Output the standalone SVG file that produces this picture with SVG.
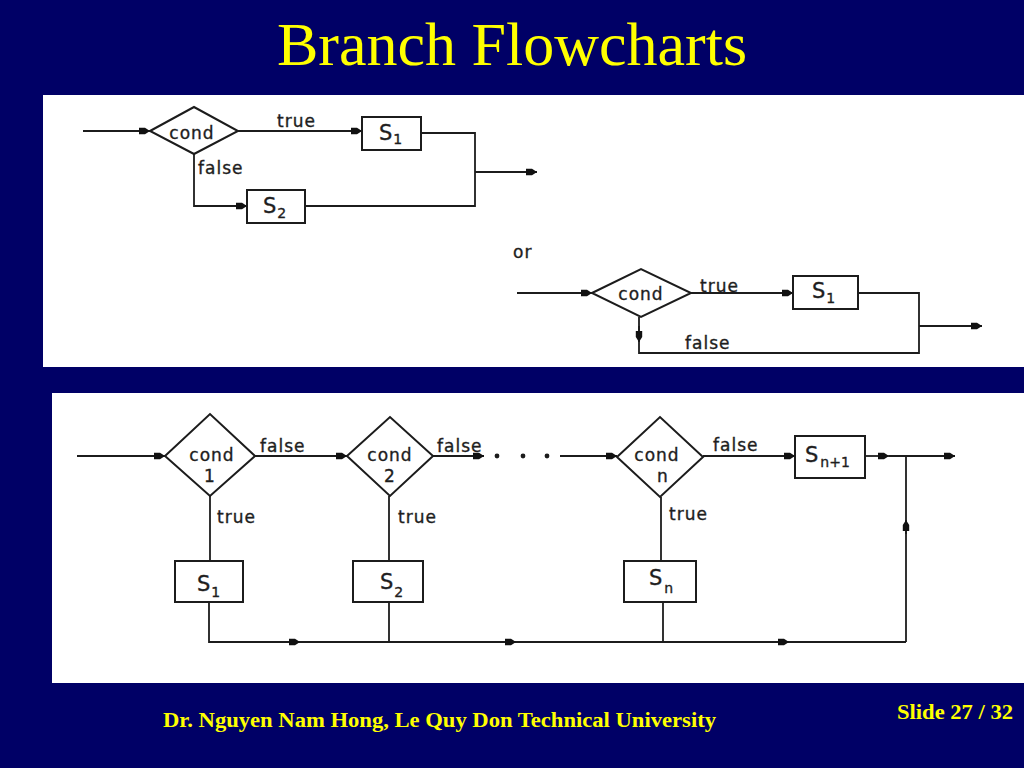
<svg xmlns="http://www.w3.org/2000/svg" width="1024" height="768" viewBox="0 0 1024 768">
<style>
.ln{fill:none;stroke:#1c1c1c;stroke-width:1.8}
.ar{fill:none;stroke:#1c1c1c;stroke-width:1.8;marker-end:url(#ah)}
.box{fill:#fff;stroke:#1c1c1c;stroke-width:2}
.lb{font-family:"DejaVu Sans",sans-serif;font-size:17px;fill:#1e1e1e;stroke:#1e1e1e;stroke-width:0.35;letter-spacing:1px}
.c{text-anchor:middle}
.s{font-family:"DejaVu Sans",sans-serif;font-size:21px;fill:#1e1e1e;stroke:#1e1e1e;stroke-width:0.35}
.sub{font-size:14px}
.title{font-family:"Liberation Serif",serif;font-size:62px;fill:#ffff00}
.foot{font-family:"Liberation Serif",serif;font-weight:bold;font-size:20px;fill:#ffff00}
</style>
<defs>
<marker id="ah" markerUnits="userSpaceOnUse" markerWidth="11" markerHeight="8" refX="11" refY="4" orient="auto">
<path d="M0,0.8 L6,0.8 L11,4 L6,7.2 L0,7.2 z" fill="#111"/>
</marker>
</defs>
<rect width="1024" height="768" fill="#000066"/>
<text class="title" x="512" y="65" text-anchor="middle">Branch Flowcharts</text>
<rect x="43" y="95" width="981" height="272" fill="#ffffff"/>
<rect x="52" y="393" width="972" height="290" fill="#ffffff"/>

<g id="connectors">
<path class="ar" d="M83,131 L150,131"/>
<path class="ar" d="M238,131 L362,131"/>
<path class="ln" d="M421,133 L475,133 L475,206 L305,206"/>
<path class="ar" d="M475,172 L537,172"/>
<path class="ar" d="M194,154 L194,206 L247,206"/>
<path class="ar" d="M517,293 L592,293"/>
<path class="ar" d="M691,293 L793,293"/>
<path class="ln" d="M858,293 L919,293 L919,353 L639,353 L639,317"/>
<path class="ar" d="M639,326 L639,342"/>
<path class="ar" d="M919,326 L982,326"/>
<path class="ar" d="M77,456 L165,456"/>
<path class="ar" d="M255,456 L347,456"/>
<path class="ar" d="M433,456 L484,456"/>
<path class="ar" d="M560,456 L617,456"/>
<path class="ar" d="M703,456 L795,456"/>
<path class="ar" d="M865,456 L889,456"/>
<path class="ar" d="M889,456 L955,456"/>
<path class="ln" d="M906,456 L906,642"/>
<path class="ar" d="M906,534 L906,520"/>
<path class="ln" d="M210,496 L210,561"/>
<path class="ln" d="M389,496 L389,561"/>
<path class="ln" d="M661,497 L661,561"/>
<path class="ln" d="M209,602 L209,642 L906,642"/>
<path class="ln" d="M389,602 L389,642"/>
<path class="ln" d="M663,602 L663,642"/>
<path class="ar" d="M284,642 L300,642"/>
<path class="ar" d="M500,642 L516,642"/>
<path class="ar" d="M772,642 L789,642"/>
</g>

<g id="labels">
<text class="lb" x="277" y="127">true</text>
<text class="lb" x="198" y="174">false</text>
<text class="lb" x="513" y="258">or</text>
<text class="lb" x="700" y="292">true</text>
<text class="lb" x="685" y="349">false</text>
<text class="lb" x="260" y="452">false</text>
<text class="lb" x="437" y="452">false</text>
<text class="lb" x="713" y="451">false</text>
<text class="lb" x="217" y="523">true</text>
<text class="lb" x="398" y="523">true</text>
<text class="lb" x="669" y="520">true</text>
<circle cx="497" cy="456" r="2.4" fill="#1c1c1c"/>
<circle cx="523" cy="456" r="2.4" fill="#1c1c1c"/>
<circle cx="547" cy="456" r="2.4" fill="#1c1c1c"/>
</g>

<g id="condA">
<polygon class="box" points="150,131 194,107 238,131 194,154"/>
<text class="lb c" x="192" y="139">cond</text>
</g>
<g id="S1A">
<rect class="box" x="362" y="117" width="59" height="33"/>
<text class="s" x="379" y="140">S<tspan class="sub" dx="1" dy="4">1</tspan></text>
</g>
<g id="S2A">
<rect class="box" x="247" y="190" width="58" height="33"/>
<text class="s" x="263" y="213">S<tspan class="sub" dx="1" dy="5">2</tspan></text>
</g>

<g id="condB">
<polygon class="box" points="592,293 641,269 691,293 641,317"/>
<text class="lb c" x="641" y="300">cond</text>
</g>
<g id="S1B">
<rect class="box" x="793" y="276" width="65" height="33"/>
<text class="s" x="812" y="298">S<tspan class="sub" dx="1" dy="5">1</tspan></text>
</g>

<g id="cond1">
<polygon class="box" points="165,456 210,414 255,456 210,496"/>
<text class="lb c" x="212" y="461">cond</text>
<text class="lb c" x="210" y="482">1</text>
</g>
<g id="cond2">
<polygon class="box" points="347,456 390,417 433,456 390,496"/>
<text class="lb c" x="390" y="461">cond</text>
<text class="lb c" x="390" y="482">2</text>
</g>
<g id="condn">
<polygon class="box" points="617,457 660,417 703,457 660,497"/>
<text class="lb c" x="657" y="461">cond</text>
<text class="lb c" x="663" y="482">n</text>
</g>
<g id="S1C">
<rect class="box" x="175" y="561" width="68" height="41"/>
<text class="s" x="197" y="591">S<tspan class="sub" dx="1" dy="6">1</tspan></text>
</g>
<g id="S2C">
<rect class="box" x="353" y="561" width="70" height="41"/>
<text class="s" x="380" y="589">S<tspan class="sub" dx="1" dy="8">2</tspan></text>
</g>
<g id="SnC">
<rect class="box" x="624" y="561" width="72" height="41"/>
<text class="s" x="649" y="585">S<tspan class="sub" dx="2" dy="8">n</tspan></text>
</g>
<g id="Sn1C">
<rect class="box" x="795" y="436" width="70" height="42"/>
<text class="s" x="805" y="462">S<tspan class="sub" dx="2" dy="5">n+1</tspan></text>
</g>

<text class="foot" x="163" y="727" textLength="553" lengthAdjust="spacingAndGlyphs">Dr. Nguyen Nam Hong, Le Quy Don Technical University</text>
<text class="foot" x="897" y="719" textLength="116" lengthAdjust="spacingAndGlyphs">Slide 27 / 32</text>
</svg>
